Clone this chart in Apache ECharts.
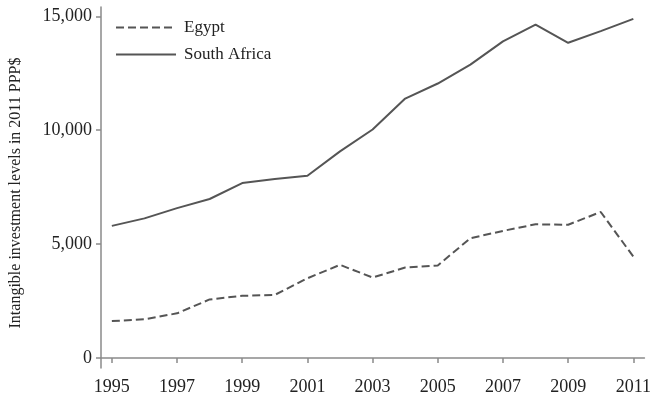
<!DOCTYPE html>
<html>
<head>
<meta charset="utf-8">
<style>
  html, body { margin: 0; padding: 0; background: #fff; }
  #chart { width: 654px; height: 398px; }
</style>
<script src="https://cdn.jsdelivr.net/npm/echarts@6/dist/echarts.min.js"></script>
</head>
<body>
<div id="chart"></div>
<script>
// values
var years = [1995, 1996, 1997, 1998, 1999, 2000, 2001, 2002, 2003, 2004, 2005, 2006, 2007, 2008, 2009, 2010, 2011];
var egypt = [1620, 1700, 1960, 2570, 2730, 2770, 3500, 4090, 3530, 3970, 4060, 5260, 5580, 5870, 5850, 6410, 4450];
var southAfrica = [5800, 6130, 6580, 6980, 7680, 7860, 8000, 9070, 10030, 11390, 12050, 12880, 13900, 14640, 13840, 14350, 14890];
var xTicks = [1995, 1997, 1999, 2001, 2003, 2005, 2007, 2009, 2011];
var yTicks = [0, 5000, 10000, 15000];

var font = "'Liberation Serif', 'DejaVu Serif', serif";
var lineColor = "#555";
var axisColor = "#8a8a8a";

function pairs(vals) {
  return years.map(function (y, i) { return [y, vals[i]]; });
}

var chart = echarts.init(document.getElementById("chart"));

chart.setOption({
  backgroundColor: "#fff",
  animation: false,
  grid: { left: 101, right: 2, top: 7, bottom: 30, containLabel: false },
  legend: {
    orient: "vertical",
    left: 115,
    top: 19,
    padding: 0,
    itemWidth: 60,
    itemHeight: 14,
    itemGap: 10,
    itemStyle: { opacity: 0 },
    textStyle: { fontFamily: font, fontSize: 17, color: "#222", padding: [0, 0, 0, 3] },
    data: ["Egypt", "South Africa"]
  },
  xAxis: {
    type: "value",
    min: 1994.667,
    max: 2011.34,
    splitLine: { show: false },
    axisLine: { lineStyle: { color: axisColor, width: 1.5 } },
    axisTick: { length: 5, lineStyle: { color: axisColor, width: 1.5 }, customValues: xTicks },
    axisLabel: {
      customValues: xTicks,
      margin: 10,
      fontFamily: font,
      fontSize: 18,
      color: "#222",
      formatter: function (v) { return String(v); }
    }
  },
  yAxis: {
    type: "value",
    min: -440,
    max: 15410,
    splitLine: { show: false },
    axisLine: { show: true, lineStyle: { color: axisColor, width: 1.5 } },
    axisTick: { show: true, length: 5, lineStyle: { color: axisColor, width: 1.5 }, customValues: yTicks },
    axisLabel: {
      customValues: yTicks,
      margin: 9,
      fontFamily: font,
      fontSize: 18,
      color: "#222",
      formatter: function (v) { return v.toLocaleString("en-US"); }
    },
    name: "Intangible investment levels in 2011 PPP$",
    nameLocation: "middle",
    nameGap: 77,
    nameTextStyle: { fontFamily: font, fontSize: 16, color: "#222", padding: [0, 11, 0, 0] }
  },
  series: [
    {
      name: "Egypt",
      type: "line",
      data: pairs(egypt),
      symbol: "none",
      lineStyle: { color: lineColor, width: 2, type: [8, 4] },
      itemStyle: { color: lineColor }
    },
    {
      name: "South Africa",
      type: "line",
      data: pairs(southAfrica),
      symbol: "none",
      lineStyle: { color: lineColor, width: 2 },
      itemStyle: { color: lineColor }
    }
  ]
});
</script>
</body>
</html>
